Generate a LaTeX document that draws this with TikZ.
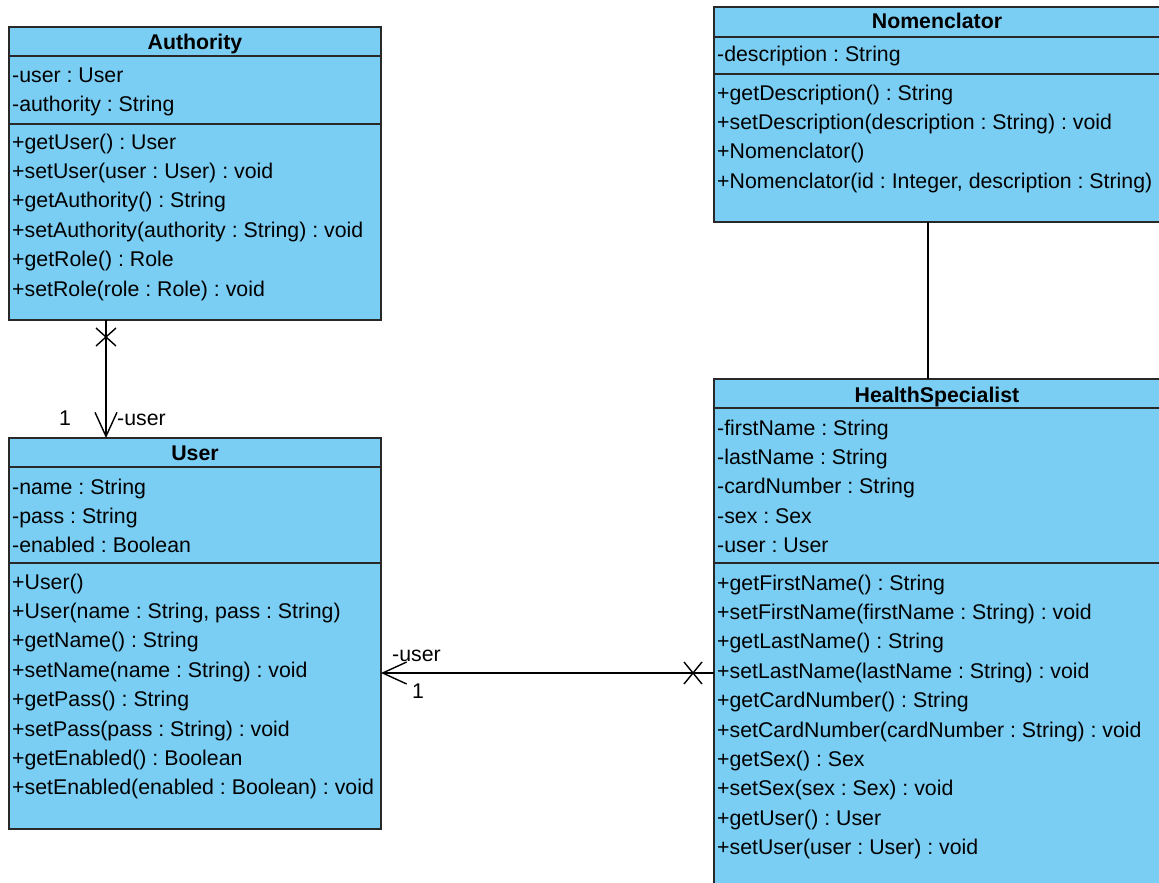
\documentclass[tikz,border=0pt]{standalone}
\usepackage{fontspec}
\setmainfont{Liberation Sans}
\usetikzlibrary{calc,arrows.meta}
\definecolor{classfill}{RGB}{122,206,244}
\definecolor{classline}{RGB}{40,40,40}
\frenchspacing

\begin{document}
\begin{tikzpicture}[x=1pt,y=-1pt,
  classbox/.style={draw=classline, fill=classfill, line width=1.4pt, inner sep=0pt, outer sep=0pt, anchor=north west},
  member/.style={anchor=base west, inner sep=0pt, font=\fontsize{21.3}{25}\selectfont},
  classtitle/.style={anchor=base, inner sep=0pt, font=\fontsize{21.3}{25}\selectfont\bfseries},
  compsep/.style={draw=classline, line width=1.4pt},
  assoc/.style={draw=black, line width=1.4pt},
  navarrow/.style={-{Straight Barb[length=24pt,width=22pt,line width=1.4pt]}},
  rolelabel/.style={inner sep=0pt, font=\fontsize{21.3}{25}\selectfont}
]
\useasboundingbox[fill=white] (0,0) rectangle (1159,883);
\clip (0,0) rectangle (1159,883);

% ---------- Authority ----------
\node[classbox, minimum width=372pt, minimum height=293pt] (auth) at (9,27) {};
\draw[compsep] (9,56) -- (381,56);
\draw[compsep] (9,124) -- (381,124);
\node[classtitle] (auth-title) at ($(auth.north)+(0,22)$) {Authority};
\foreach \t [count=\i] in {-user : User, -authority : String}
  \node[member] (auth-a\i) at (12,{82+(\i-1)*29.4}) {\t};
\foreach \t [count=\i] in {+getUser() : User, +setUser(user : User) : void,
    +getAuthority() : String, +setAuthority(authority : String) : void,
    +getRole() : Role, +setRole(role : Role) : void}
  \node[member] (auth-m\i) at (12,{149+(\i-1)*29.4}) {\t};

% ---------- User ----------
\node[classbox, minimum width=372pt, minimum height=391pt] (user) at (9,438) {};
\draw[compsep] (9,467) -- (381,467);
\draw[compsep] (9,563) -- (381,563);
\node[classtitle] (user-title) at ($(user.north)+(0,22)$) {User};
\foreach \t [count=\i] in {-name : String, -pass : String, -enabled : Boolean}
  \node[member] (user-a\i) at (12,{494+(\i-1)*29.4}) {\t};
\foreach \t [count=\i] in {+User(), {+User(name : String, pass : String)},
    +getName() : String, +setName(name : String) : void,
    +getPass() : String, +setPass(pass : String) : void,
    +getEnabled() : Boolean, +setEnabled(enabled : Boolean) : void}
  \node[member] (user-m\i) at (12,{589+(\i-1)*29.4}) {\t};

% ---------- Nomenclator ----------
\node[classbox, minimum width=448pt, minimum height=215pt] (nom) at (714,7) {};
\draw[compsep] (714,37) -- (1162,37);
\draw[compsep] (714,74) -- (1162,74);
\node[classtitle] (nom-title) at (937,29) {Nomenclator};
\node[member] (nom-a1) at (717,62) {-description : String};
\foreach \t [count=\i] in {+getDescription() : String,
    +setDescription(description : String) : void,
    +Nomenclator(), {+Nomenclator(id : Integer, description : String)}}
  \node[member] (nom-m\i) at (717,{100+(\i-1)*29.4}) {\t};

% ---------- HealthSpecialist ----------
\node[classbox, minimum width=448pt, minimum height=520pt] (hs) at (714,379) {};
\draw[compsep] (714,408) -- (1162,408);
\draw[compsep] (714,563) -- (1162,563);
\node[classtitle] (hs-title) at (937,402) {HealthSpecialist};
\foreach \t [count=\i] in {-firstName : String, -lastName : String,
    -cardNumber : String, -sex : Sex, -user : User}
  \node[member] (hs-a\i) at (717,{435+(\i-1)*29.4}) {\t};
\foreach \t [count=\i] in {+getFirstName() : String,
    +setFirstName(firstName : String) : void,
    +getLastName() : String, +setLastName(lastName : String) : void,
    +getCardNumber() : String, +setCardNumber(cardNumber : String) : void,
    +getSex() : Sex, +setSex(sex : Sex) : void,
    +getUser() : User, +setUser(user : User) : void}
  \node[member] (hs-m\i) at (717,{590+(\i-1)*29.4}) {\t};

% ---------- Associations ----------
% Authority -> User
\coordinate (au-start) at ($(auth.south west)+(97,0)$);
\draw[assoc, navarrow] (au-start) -- (au-start |- user.north);
\coordinate (au-x) at ($(au-start)+(0,17)$);
\draw[assoc] (au-x) +(-10,-9) -- +(10,9) (au-x) +(-10,9) -- +(10,-9);
\node[rolelabel, anchor=base] (au-mult) at (65,425) {1};
\node[rolelabel, anchor=base west] (au-role) at (117,425) {-user};

% HealthSpecialist -> User
\coordinate (hu-start) at (hs.west |- 0,673);
\draw[assoc, navarrow] (hu-start) -- (hu-start -| user.east);
\coordinate (hu-x) at ($(hu-start)+(-21,0)$);
\draw[assoc] (hu-x) +(-9,-11) -- +(9,11) (hu-x) +(-9,11) -- +(9,-11);
\node[rolelabel, anchor=base west] (hu-role) at (392,661) {-user};
\node[rolelabel, anchor=base] (hu-mult) at (418,698) {1};

% Nomenclator -- HealthSpecialist
\coordinate (nh-start) at (928,222);
\draw[assoc] (nh-start) -- (nh-start |- hs.north);

\end{tikzpicture}
\end{document}
